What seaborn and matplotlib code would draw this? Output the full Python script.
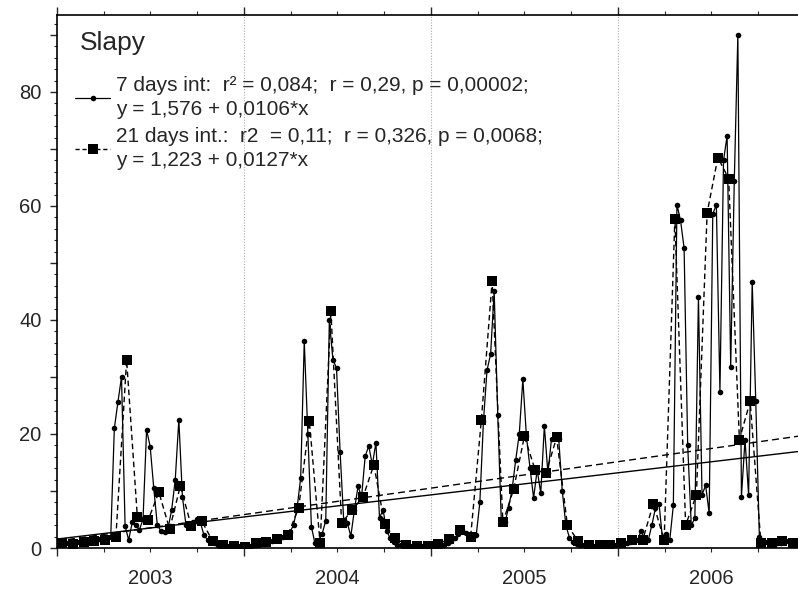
import numpy as np
import pandas as pd
import matplotlib
matplotlib.use("Agg")
import matplotlib.pyplot as plt
from matplotlib.lines import Line2D
from matplotlib.ticker import FixedLocator, FuncFormatter, MultipleLocator, NullFormatter
import seaborn as sns

# ---------------- data ----------------
start_year = 2003
step_7d_days = 7
step_21d_days = 21
offset_21d_days = 10

vals_7d_2003 = [0.8, 1.0, 1.2, 0.9, 0.7, 0.8, 1.0, 1.1, 0.9, 1.0, 1.2, 1.3, 1.5, 1.4, 1.8, 2.0,
                21.0, 25.6, 30.0, 3.9, 1.4, 4.5, 4.0, 3.2, 5.0, 20.7, 17.8, 10.5, 4.0, 3.0, 2.8,
                3.5, 6.7, 12.0, 22.5, 9.0, 4.0, 4.0, 4.5, 5.0, 4.5,
                2.3, 1.4, 1.0, 0.8, 0.6, 0.5, 0.5, 0.4, 0.4, 0.3, 0.3, 0.3]
vals_7d_2004 = [0.3, 0.4, 0.6, 0.8, 0.9, 1.0, 1.0, 1.2, 1.4, 1.6, 2.0, 2.3, 2.8, 4.0,
                7.0, 12.3, 36.3, 20.0, 3.7, 0.8, 1.4, 2.5, 4.8, 40.0, 33.0, 31.6, 16.9, 4.9,
                4.4, 2.1, 6.7, 10.8, 9.0, 16.1, 17.9, 14.6, 18.5, 5.3, 6.7, 3.0, 1.7, 1.0,
                0.6, 0.5, 0.4, 0.4, 0.3, 0.3, 0.3, 0.3, 0.3, 0.3]
vals_7d_2005 = [0.3, 0.4, 0.5, 0.6, 0.9, 1.3, 1.7, 2.4, 3.2, 2.6, 2.0, 2.0, 2.3,
                8.0, 22.2, 31.2, 34.0, 45.0, 23.3, 4.5, 4.5, 7.0, 10.3, 15.4, 20.0, 29.6,
                19.6, 14.0, 8.8, 13.7, 9.6, 21.4, 13.1, 19.2, 19.4, 19.2, 10.0, 4.0, 1.8, 1.0,
                0.7, 0.6, 0.5, 0.5, 0.4, 0.4, 0.4, 0.4, 0.4, 0.4, 0.4, 0.5]
vals_7d_2006 = [0.6, 0.7, 0.8, 1.0, 1.2, 1.4, 3.0, 1.5, 1.4, 4.0, 7.0, 7.8, 1.4, 2.5, 1.4,
                7.5, 60.2, 57.5, 52.6, 18.0, 4.0, 5.2, 44.0, 9.3, 11.0, 6.1, 58.6, 60.2,
                27.4, 68.0, 72.3, 31.8, 64.3, 90.0, 9.0, 19.0, 9.3, 46.7, 25.7, 2.0,
                1.2, 1.0, 0.9, 0.8, 0.9, 0.8, 1.0, 1.2, 1.0, 0.9]

vals_21d = [0.8, 0.7, 1.0, 1.2, 1.4, 1.9,
            33.0, 5.4, 4.9, 9.8, 3.3, 10.9, 3.9, 4.7,
            1.2, 0.6, 0.4, 0.2,
            0.8, 1.0, 1.5, 2.3, 7.0, 22.2, 0.8,
            41.5, 4.4, 6.7, 9.0, 14.6, 4.2, 1.7, 0.6, 0.4, 0.3,
            0.7, 1.6, 3.2, 2.0,
            22.5, 46.8, 4.5, 10.3, 19.6, 13.7, 13.1, 19.4, 4.0, 1.2, 0.5, 0.5,
            0.6, 0.9, 1.4, 1.4, 7.8, 1.4,
            57.8, 4.0, 9.3, 58.8, 68.5, 64.8, 19.0, 25.7,
            0.9, 0.8, 1.2, 0.9]

reg_7d_intercept, reg_7d_slope = 1.576, 0.0106
reg_21d_intercept, reg_21d_slope = 1.223, 0.0127

year_labels = ["2003", "2004", "2005", "2006"]
legend_title = "Slapy"
label_7d = "7 days int:  r\u00b2 = 0,084;  r = 0,29, p = 0,00002;\ny = 1,576 + 0,0106*x"
label_21d = "21 days int.:  r2  = 0,11;  r = 0,326, p = 0,0068;\ny = 1,223 + 0,0127*x"

# ---------------- frames ----------------
vals_7d = vals_7d_2003 + vals_7d_2004 + vals_7d_2005 + vals_7d_2006
days_7d = np.arange(len(vals_7d)) * step_7d_days
days_21d = offset_21d_days + np.arange(len(vals_21d)) * step_21d_days
df7 = pd.DataFrame({"t": start_year + days_7d / 365.25, "v": vals_7d})
df21 = pd.DataFrame({"t": start_year + days_21d / 365.25, "v": vals_21d})

x_min, x_max = 2003.0, 2006.963
reg_days = np.array([0.0, (x_max - x_min) * 365.25])
df_reg7 = pd.DataFrame({"t": start_year + reg_days / 365.25,
                        "v": reg_7d_intercept + reg_7d_slope * reg_days})
df_reg21 = pd.DataFrame({"t": start_year + reg_days / 365.25,
                         "v": reg_21d_intercept + reg_21d_slope * reg_days})

# ---------------- plot ----------------
sns.set_style("ticks")
plt.rcParams["font.family"] = ["Liberation Sans", "DejaVu Sans"]

fig = plt.figure(figsize=(7.98, 5.91), dpi=100)
ax = fig.add_axes([57 / 798, 43 / 591, 741 / 798, 533 / 591])

for yb in [2004, 2005, 2006]:
    ax.axvline(yb, color="#aaaaaa", lw=0.8, ls=(0, (1, 1.5)), zorder=0)

sns.lineplot(data=df_reg7, x="t", y="v", ax=ax, color="black", lw=1.0, estimator=None)
sns.lineplot(data=df_reg21, x="t", y="v", ax=ax, color="black", lw=1.0,
             linestyle=(0, (5, 3)), estimator=None)
sns.lineplot(data=df21, x="t", y="v", ax=ax, color="black", lw=1.0, linestyle=(0, (4, 2.5)),
             marker="s", markersize=7.5, markeredgewidth=0, estimator=None, sort=False)
sns.lineplot(data=df7, x="t", y="v", ax=ax, color="black", lw=0.9,
             marker="o", markersize=4, markeredgewidth=0, estimator=None, sort=False)

ax.set_xlim(x_min, x_max)
ax.set_ylim(0, 93.5)
ax.set_xlabel("")
ax.set_ylabel("")

# x ticks: year boundaries (major), quarters (minor), year labels at mid-year
ax.xaxis.set_major_locator(FixedLocator([2003, 2004, 2005, 2006]))
ax.xaxis.set_major_formatter(NullFormatter())
quarters = [y + q for y in [2003, 2004, 2005, 2006] for q in (0.25, 0.5, 0.75)]
ax.xaxis.set_minor_locator(FixedLocator(quarters))
lab_map = {round(int(l) + 0.5, 2): l for l in year_labels}
ax.xaxis.set_minor_formatter(FuncFormatter(lambda v, p: lab_map.get(round(v, 2), "")))
ax.tick_params(axis="x", which="major", length=6, width=1, direction="out", top=True, bottom=True)
ax.tick_params(axis="x", which="minor", length=3, width=0.8, direction="out", top=True,
               bottom=True, labelsize=14.5, pad=12)

ax.yaxis.set_major_locator(MultipleLocator(10))
ax.yaxis.set_major_formatter(FuncFormatter(lambda v, p: f"{int(v)}" if int(round(v)) % 20 == 0 else ""))
ax.yaxis.set_minor_locator(MultipleLocator(2))
ax.tick_params(axis="y", which="major", length=5, width=1, direction="out", labelsize=14.5, pad=6)
ax.tick_params(axis="y", which="minor", length=2.5, width=0.8, direction="out")

for s in ["left", "bottom", "top"]:
    ax.spines[s].set_visible(True)
    ax.spines[s].set_linewidth(1.2)
    ax.spines[s].set_color("black")
ax.spines["right"].set_visible(False)

# title of the legend block
ax.text((80 - 57) / 741, 1 - (43 - 15) / 533, legend_title, transform=ax.transAxes,
        fontsize=19, ha="left", va="center")

handles = [
    Line2D([], [], color="black", lw=0.9, marker="o", markersize=4, markeredgewidth=0),
    Line2D([], [], color="black", lw=1.0, ls=(0, (3, 2)), marker="s", markersize=7, markeredgewidth=0),
]
leg = ax.legend(handles, [label_7d, label_21d], loc="upper left",
                bbox_to_anchor=((75 - 57) / 741, 1 - (76 - 15) / 533), frameon=False,
                fontsize=15, handlelength=1.7, handletextpad=0.25, labelspacing=0.4,
                borderaxespad=0.0, borderpad=0.0)
for t in leg.get_texts():
    t.set_linespacing(1.32)

fig.savefig("out.png", dpi=100, facecolor="white")
